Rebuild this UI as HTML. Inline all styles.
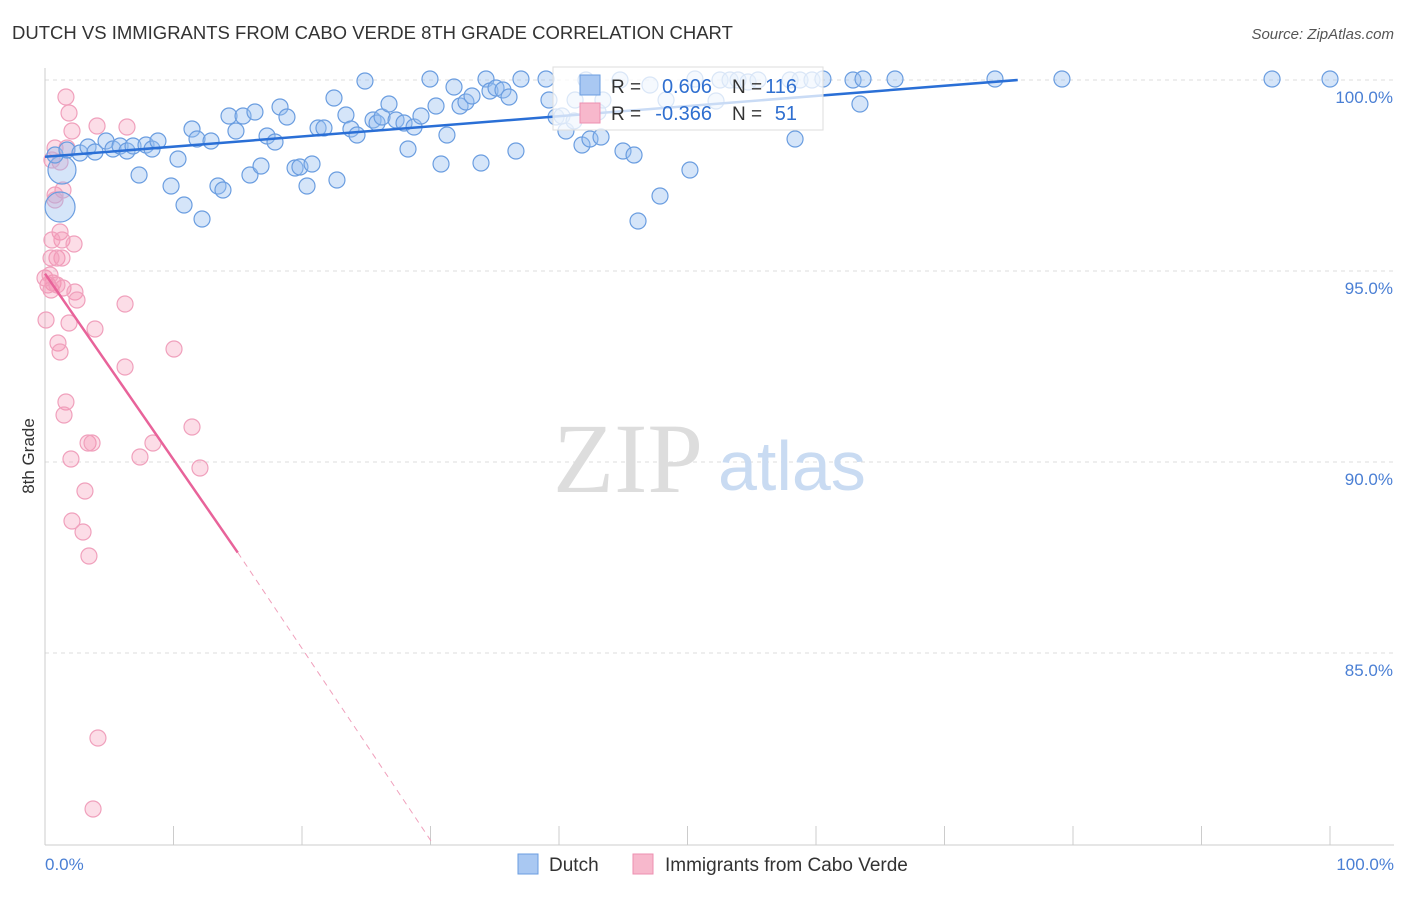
<!DOCTYPE html>
<html><head><meta charset="utf-8"><style>
body{margin:0;background:#fff;font-family:"Liberation Sans",sans-serif}
</style></head><body>
<svg id="c" width="1406" height="892" xmlns="http://www.w3.org/2000/svg" font-family="Liberation Sans, sans-serif">
<text x="12" y="39" font-size="18.5" fill="#333">DUTCH VS IMMIGRANTS FROM CABO VERDE 8TH GRADE CORRELATION CHART</text>
<text x="1394" y="39" font-size="15" fill="#555" text-anchor="end" font-style="italic">Source: ZipAtlas.com</text>
<g id="grid"></g>
<text x="553" y="492" font-size="100" fill="#ddd" font-family="Liberation Serif, serif">ZIP</text>
<text x="718" y="490" font-size="70" fill="#c9dbf2">atlas</text>
<g id="pts"></g>
<g id="lines"></g>
<text transform="translate(34,456) rotate(-90)" font-size="17" fill="#333" text-anchor="middle">8th Grade</text>
<text x="45" y="870" font-size="17" fill="#4a7fd4">0.0%</text>
<text x="1394" y="870" font-size="17" fill="#4a7fd4" text-anchor="end">100.0%</text>
<g>
<rect x="553" y="67" width="270" height="63" fill="#fff" fill-opacity="0.75" stroke="#ddd"/>
<rect x="580" y="75" width="20" height="20" fill="#a9c8f2" stroke="#6a9de0"/>
<rect x="580" y="103" width="20" height="20" fill="#f7b8cc" stroke="#ee8fb0"/>
<text x="611" y="93" font-size="19" fill="#333">R =</text>
<text x="712" y="93" font-size="20" fill="#2f6fd0" text-anchor="end">0.606</text>
<text x="732" y="93" font-size="19" fill="#333">N =</text>
<text x="797" y="93" font-size="20" fill="#2f6fd0" text-anchor="end">116</text>
<text x="611" y="120" font-size="19" fill="#333">R =</text>
<text x="712" y="120" font-size="20" fill="#2f6fd0" text-anchor="end">-0.366</text>
<text x="732" y="120" font-size="19" fill="#333">N =</text>
<text x="797" y="120" font-size="20" fill="#2f6fd0" text-anchor="end">51</text>
</g>
<g>
<rect x="518" y="854" width="20" height="20" fill="#a9c8f2" stroke="#6a9de0"/>
<text x="549" y="871" font-size="19" fill="#333">Dutch</text>
<rect x="633" y="854" width="20" height="20" fill="#f7b8cc" stroke="#ee8fb0"/>
<text x="665" y="871" font-size="19" fill="#333">Immigrants from Cabo Verde</text>
</g>
</svg>
<script>
const yTicks=[100,95,90,85];
const yTickLabels=["100.0%","95.0%","90.0%","85.0%"];
const xTicks=[0,10,20,30,40,50,60,70,80,90,100];
const bluePx=[[60,207],[62,170],[55,155],[67,150],[80,153],[88,147],[95,152],[106,141],[113,149],[120,146],[127,151],[133,146],[146,145],[152,149],[158,141],[139,175],[171,186],[178,159],[184,205],[192,129],[197,139],[202,219],[211,141],[218,186],[223,190],[229,116],[236,131],[243,116],[250,175],[255,112],[261,166],[267,136],[275,142],[280,107],[287,117],[295,168],[300,167],[307,186],[312,164],[318,128],[324,128],[334,98],[337,180],[346,115],[351,129],[357,135],[365,81],[373,120],[377,123],[382,117],[389,104],[396,120],[404,123],[408,149],[414,127],[421,116],[430,79],[436,106],[441,164],[447,135],[454,87],[460,106],[466,102],[472,96],[481,163],[486,79],[490,91],[496,88],[503,90],[509,97],[516,151],[521,79],[546,79],[549,100],[556,117],[562,116],[566,131],[574,121],[582,145],[590,139],[598,112],[601,137],[623,151],[634,155],[638,221],[660,196],[690,170],[695,79],[720,80],[730,80],[738,80],[748,82],[758,80],[790,80],[800,80],[812,80],[823,79],[853,80],[860,104],[863,79],[895,79],[995,79],[1062,79],[1272,79],[1330,79],[795,139],[716,101],[603,100],[666,100],[650,85],[620,80],[586,80],[575,100]];
const pinkPx=[[66,97],[69,113],[72,131],[67,148],[55,148],[60,162],[52,160],[63,190],[55,195],[60,232],[62,240],[52,240],[74,244],[57,258],[62,258],[51,258],[53,283],[48,285],[51,290],[63,288],[75,292],[77,300],[69,323],[46,320],[58,343],[60,352],[95,329],[125,304],[125,367],[174,349],[66,402],[64,415],[88,443],[92,443],[71,459],[153,443],[140,457],[192,427],[200,468],[85,491],[72,521],[83,532],[89,556],[97,126],[127,127],[98,738],[93,809],[57,285],[45,278],[50,275],[55,200]];
const blueX=bluePx.map(p=>+((p[0]-45)/12.85).toFixed(2)), blueY=bluePx.map(p=>+(100-(p[1]-80)/38.2).toFixed(3));
const pinkX=pinkPx.map(p=>+((p[0]-45)/12.85).toFixed(2)), pinkY=pinkPx.map(p=>+(100-(p[1]-80)/38.2).toFixed(3));
const blueSizes={0:15,1:14};
const blueTrend=[[0,97.99],[75.7,100]];
const pinkTrend=[[0,94.93],[15,87.63]];
const pinkDash=[[15,87.63],[30.2,80]];
const X=v=>45+v*12.85, Y=v=>80+(100-v)*38.2;
const NS="http://www.w3.org/2000/svg";
function mk(t,a,p){const e=document.createElementNS(NS,t);for(const k in a)e.setAttribute(k,a[k]);p.appendChild(e);return e;}
const grid=document.getElementById('grid');
yTicks.forEach((t,i)=>{const l=mk('line',{x1:45,x2:1394,y1:Y(t),y2:Y(t),stroke:'#ddd','stroke-dasharray':'4,4'},grid);


const tx=mk('text',{x:1393,y:Y(t)+23,'font-size':17,fill:'#4a7fd4','text-anchor':'end'},grid);tx.textContent=yTickLabels[i];

});
const ax=mk('line',{x1:45,x2:45,y1:68,y2:845,stroke:'#ccc'},grid);


const bx=mk('line',{x1:45,x2:1394,y1:845,y2:845,stroke:'#ccc'},grid);


xTicks.forEach(t=>{const l=mk('line',{x1:X(t),x2:X(t),y1:826,y2:845,stroke:'#ccc'},grid);

});
const pts=document.getElementById('pts');
pinkX.forEach((x,i)=>{const c=mk('circle',{cx:X(x),cy:Y(pinkY[i]),r:8,fill:'rgba(244,143,177,0.3)',stroke:'#f0a0bc','stroke-width':1.2},pts);

});
blueX.forEach((x,i)=>{const c=mk('circle',{cx:X(x),cy:Y(blueY[i]),r:blueSizes[i]||8,fill:'rgba(150,190,240,0.4)',stroke:'#6a9de0','stroke-width':1.2},pts);

});
const lines=document.getElementById('lines');
const b=mk('line',{x1:X(blueTrend[0][0]),y1:Y(blueTrend[0][1]),x2:X(blueTrend[1][0]),y2:Y(blueTrend[1][1]),stroke:'#2a6fd6','stroke-width':2.5},lines);


const p=mk('line',{x1:X(pinkTrend[0][0]),y1:Y(pinkTrend[0][1]),x2:X(pinkTrend[1][0]),y2:Y(pinkTrend[1][1]),stroke:'#e8639a','stroke-width':2.5},lines);


const d=mk('line',{x1:X(pinkDash[0][0]),y1:Y(pinkDash[0][1]),x2:X(pinkDash[1][0]),y2:Y(pinkDash[1][1]),stroke:'#f0a0bc','stroke-width':1,'stroke-dasharray':'6,5'},lines);


</script>
</body></html>
